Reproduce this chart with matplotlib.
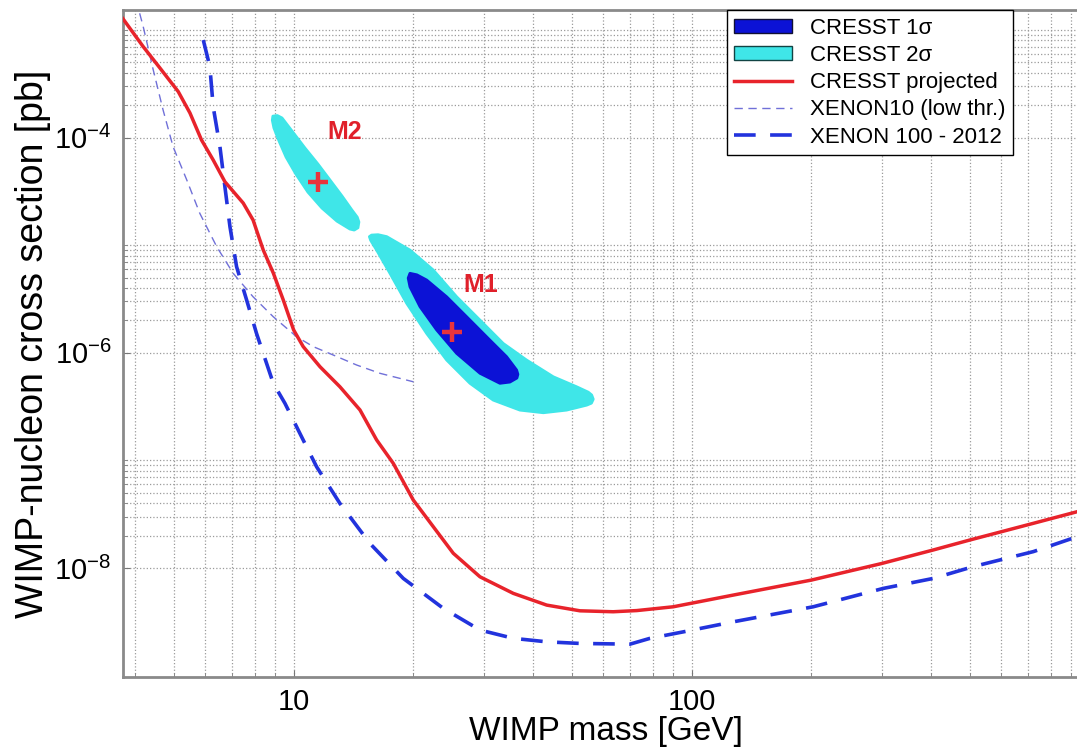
import numpy as np
import matplotlib.pyplot as plt
from matplotlib.patches import Patch
from matplotlib.lines import Line2D
from matplotlib.ticker import FixedLocator, NullFormatter, LogFormatterMathtext, FuncFormatter

plt.rcParams['font.family'] = ['Liberation Sans', 'DejaVu Sans']

###---values---###

# CRESST projected sensitivity (mass GeV, cross section pb)
cresst_proj_mass = [3.72, 4.19, 4.62, 5.13, 5.49, 5.87, 6.28, 6.72, 7.47, 7.91, 8.39, 8.89, 9.42, 10.0,
                    10.57, 11.65, 13.07, 14.68, 16.16, 17.80, 19.98, 22.43, 25.18, 29.39, 35.63, 43.23,
                    52.4, 63.5, 72.8, 89.9, 127.2, 200.2, 300, 404.6, 500, 721.7, 929, 1000]
cresst_proj_xs = [1.28e-3, 6.98e-4, 4.40e-4, 2.67e-4, 1.69e-4, 9.48e-5, 6.18e-5, 3.88e-5, 2.46e-5, 1.71e-5,
                  9.0e-6, 5.51e-6, 3.09e-6, 1.63e-6, 1.14e-6, 7.41e-7, 4.83e-7, 2.94e-7, 1.55e-7, 9.37e-8,
                  4.28e-8, 2.42e-8, 1.37e-8, 8.28e-9, 5.81e-9, 4.52e-9, 4.00e-9, 3.92e-9, 4.02e-9, 4.36e-9,
                  5.60e-9, 7.73e-9, 1.10e-8, 1.47e-8, 1.82e-8, 2.60e-8, 3.33e-8, 3.61e-8]

# XENON100 2012 limit
xe100_mass = [5.93, 6.16, 6.28, 6.53, 6.72, 6.92, 7.19, 7.62, 8.07, 8.89, 9.51, 10.37, 11.42, 13.07, 15.55,
              18.86, 23.76, 29.39, 35.63, 43.23, 52.4, 70.0, 78.6, 95.3, 127.2, 202, 303, 404.6, 510, 722,
              929, 1000]
xe100_xs = [8.05e-4, 4.55e-4, 1.93e-4, 8.21e-5, 3.49e-5, 1.48e-5, 6.30e-6, 3.09e-6, 1.51e-6, 5.20e-7,
            3.39e-7, 1.78e-7, 8.73e-8, 3.98e-8, 1.69e-8, 8.0e-9, 4.22e-9, 2.65e-9, 2.22e-9, 2.06e-9,
            1.99e-9, 1.96e-9, 2.22e-9, 2.55e-9, 3.16e-9, 4.36e-9, 6.46e-9, 8.0e-9, 1.03e-8, 1.42e-8,
            1.95e-8, 2.11e-8]

# XENON10 low threshold
xe10_mass = [4.02, 4.19, 4.44, 4.70, 4.98, 5.39, 5.81, 6.41, 7.05, 7.91, 8.89, 10.17, 11.2, 12.58, 14.4,
             16.48, 20.0]
xe10_xs = [1.9e-3, 1.07e-3, 4.24e-4, 1.80e-4, 8.21e-5, 4.03e-5, 1.98e-5, 9.66e-6, 5.47e-6, 3.31e-6,
           2.16e-6, 1.41e-6, 1.14e-6, 9.52e-7, 7.69e-7, 6.44e-7, 5.37e-7]

# CRESST 2 sigma region around M2
m2_2s_mass = [8.87, 9.10, 9.35, 9.96, 10.68, 11.51, 12.34, 13.23, 14.01, 14.45, 14.59, 14.51, 14.2, 13.85,
              12.85, 11.78, 10.86, 10.13, 9.57, 9.19, 8.92, 8.84]
m2_2s_xs = [1.58e-4, 1.60e-4, 1.52e-4, 1.12e-4, 7.98e-5, 5.67e-5, 4.03e-5, 2.86e-5, 2.12e-5, 1.82e-5,
            1.64e-5, 1.45e-5, 1.38e-5, 1.41e-5, 1.67e-5, 2.21e-5, 3.11e-5, 4.58e-5, 6.59e-5, 9.28e-5,
            1.23e-4, 1.45e-4]

# CRESST 2 sigma region around M1
m1_2s_mass = [15.70, 16.3, 17.13, 19.60, 22.43, 25.68, 29.39, 33.62, 38.49, 44.91, 51.4, 55.0, 56.08, 56.6,
              56.0, 54.5, 48.5, 42.4, 37.03, 31.73, 27.73, 24.24, 21.59, 19.23, 17.46, 16.16, 15.61, 15.5]
m1_2s_xs = [1.24e-5, 1.25e-5, 1.20e-5, 9.0e-6, 5.87e-6, 3.31e-6, 2.01e-6, 1.22e-6, 8.55e-7, 5.98e-7,
            4.83e-7, 4.3e-7, 4.05e-7, 3.7e-7, 3.4e-7, 3.26e-7, 2.93e-7, 2.77e-7, 2.93e-7, 3.63e-7,
            5.20e-7, 8.55e-7, 1.51e-6, 2.88e-6, 5.47e-6, 9.0e-6, 1.11e-5, 1.2e-5]

# CRESST 1 sigma region around M1
m1_1s_mass = [19.60, 20.4, 21.59, 24.24, 27.21, 31.13, 34.29, 36.33, 36.6, 36.39, 34.95, 32.98, 29.39,
              25.68, 22.87, 20.77, 19.60, 19.40]
m1_1s_xs = [5.47e-6, 5.3e-6, 4.74e-6, 3.31e-6, 2.16e-6, 1.31e-6, 9.18e-7, 6.91e-7, 6.3e-7, 5.82e-7,
            5.34e-7, 5.20e-7, 6.44e-7, 9.86e-7, 1.63e-6, 2.68e-6, 4.10e-6, 4.94e-6]

# best fit points and their labels
best_names = ['M1', 'M2']
best_mass = [24.95, 11.53]
best_xs = [1.57e-6, 3.88e-5]
label_mass = [29.55, 13.46]
label_xs = [4.26e-6, 1.13e-4]

legend_labels = ['CRESST 1\u03c3', 'CRESST 2\u03c3', 'CRESST projected', 'XENON10 (low thr.)',
                 'XENON 100 - 2012']

red = '#e8232b'
blue = '#2233dd'
cyan = '#3fe6e8'
dark = '#0c12d6'

###---plot---###

fig = plt.figure(figsize=(10.77, 7.53), dpi=100)
ax = fig.add_axes([0.1139, 0.1009, 0.8979, 0.8858])
ax.set_xscale('log')
ax.set_yscale('log')
ax.set_xlim(3.72, 1000)
ax.set_ylim(9.7e-10, 1.53e-3)

ax.fill(m2_2s_mass, m2_2s_xs, color=cyan, lw=2, joinstyle='round', zorder=2)
ax.fill(m1_2s_mass, m1_2s_xs, color=cyan, lw=2, joinstyle='round', zorder=2)
ax.fill(m1_1s_mass, m1_1s_xs, color=dark, lw=2, joinstyle='round', zorder=3)

ax.plot(xe10_mass, xe10_xs, color='#7070d8', lw=1.0, dashes=(6, 4), zorder=4)
ax.plot(xe100_mass, xe100_xs, color=blue, lw=2.6, dashes=(6, 4), zorder=5)
ax.plot(cresst_proj_mass, cresst_proj_xs, color=red, lw=2.5, zorder=6)

ax.plot(best_mass, best_xs, ls='none', marker='+', ms=14, mew=3.2, color='#e8343c', zorder=7)
for name, mx, my in zip(best_names, label_mass, label_xs):
    ax.text(mx, my, name, color='#e0202a', fontsize=18, fontweight='bold', ha='center', va='center', zorder=7)

# ticks and grid
ax.xaxis.set_major_locator(FixedLocator([10, 100]))
ax.xaxis.set_minor_locator(FixedLocator([k * 10.0 ** e for e in (0, 1, 2) for k in range(2, 11)]))
ax.yaxis.set_major_locator(FixedLocator([1e-8, 1e-6, 1e-4]))
ax.yaxis.set_minor_locator(FixedLocator([k * 10.0 ** e for e in (-8, -6, -4) for k in range(2, 11)]))
ax.xaxis.set_major_formatter(FuncFormatter(lambda v, p: '%g' % v))
ax.yaxis.set_major_formatter(LogFormatterMathtext())
ax.xaxis.set_minor_formatter(NullFormatter())
ax.yaxis.set_minor_formatter(NullFormatter())
ax.grid(which='both', ls=':', color='#9a9a9a', lw=0.9, zorder=0)
ax.set_axisbelow(True)
ax.tick_params(which='both', direction='in', color='#777777', labelsize=21)
ax.tick_params(which='major', length=5, pad=8)
ax.tick_params(which='minor', length=3)
for s in ax.spines.values():
    s.set_color('#8a8a8a')
    s.set_linewidth(2)

ax.set_xlabel('WIMP mass [GeV]', fontsize=24, labelpad=0)
ax.set_ylabel('WIMP-nucleon cross section [pb]', fontsize=27, labelpad=2)

handles = [Patch(facecolor=dark, edgecolor='#111133', lw=1),
           Patch(facecolor=cyan, edgecolor='#114444', lw=1),
           Line2D([], [], color=red, lw=2.5),
           Line2D([], [], color='#7070d8', lw=1.0, dashes=(6, 4)),
           Line2D([], [], color=blue, lw=2.6, dashes=(6, 4))]
leg = fig.legend(handles, legend_labels, loc='upper left', bbox_to_anchor=(726.7 / 1077, 1 - 10 / 753),
                 fontsize=16, frameon=True, fancybox=False, framealpha=1, edgecolor='black',
                 handlelength=2.6, handleheight=0.6, handletextpad=0.8, labelspacing=0.28,
                 borderpad=0.35, borderaxespad=0)
leg.get_frame().set_linewidth(1)

fig.savefig('out.png', dpi=100)
